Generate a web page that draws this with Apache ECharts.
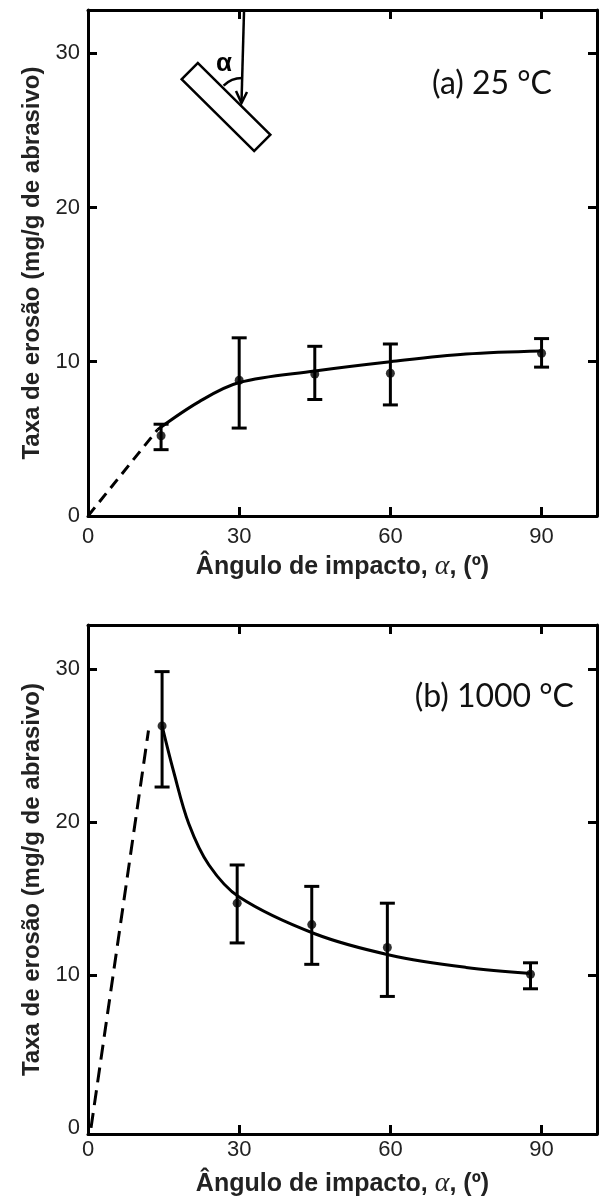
<!DOCTYPE html>
<html>
<head>
<meta charset="utf-8">
<script src="https://cdn.jsdelivr.net/npm/echarts@6/dist/echarts.min.js"></script>
<style>
  html, body { margin: 0; padding: 0; background: #fff; }
  #main { width: 600px; height: 1197px; }
</style>
</head>
<body>
<div id="main"></div>
<script>
// (a) 25 °C - pontos medidos
const anguloA = [14.5, 30, 45, 60, 90];
const taxaA = [5.2, 8.8, 9.2, 9.25, 10.55];
const erroMinA = [4.3, 5.7, 7.55, 7.2, 9.65];
const erroMaxA = [5.95, 11.55, 11.0, 11.15, 11.5];
// curva ajustada (a)
const curvaA = [[13.8, 5.6], [22, 7.4], [30, 8.65], [45, 9.4], [60, 10.0], [75, 10.5], [90, 10.7]];
const tracejadoA = [[0, 0], [13.8, 5.6]];

// (b) 1000 °C - pontos medidos
const anguloB = [14.7, 29.6, 44.4, 59.4, 87.8];
const taxaB = [26.3, 14.7, 13.3, 11.8, 10.05];
const erroMinB = [22.3, 12.1, 10.7, 8.6, 9.1];
const erroMaxB = [29.85, 17.2, 15.8, 14.7, 10.8];
// curva ajustada (b)
const curvaB = [[14.7, 26.3], [17, 23.3], [20, 19.9], [24, 17.2], [30, 15.1], [45, 12.7], [60, 11.3], [75, 10.5], [88, 10.1]];
const tracejadoB = [[0.6, 0], [12, 26]];

const xRotulos = [0, 30, 60, 90];
const xMarcas = [30, 60, 90];
const yRotulos = [0, 10, 20, 30];
const yMarcas = [10, 20, 30];

const fonte = 'Liberation Sans';

function pontos(xs, ys) {
  return xs.map((x, i) => [x, ys[i]]);
}
function erros(xs, lo, hi) {
  return xs.map((x, i) => [x, lo[i], hi[i]]);
}

function barraErro(params, api) {
  const x = api.value(0);
  const lo = api.coord([x, api.value(1)]);
  const hi = api.coord([x, api.value(2)]);
  const w = 7.5;
  const style = { stroke: '#000', lineWidth: 3 };
  return {
    type: 'group',
    children: [
      { type: 'line', shape: { x1: lo[0], y1: lo[1], x2: hi[0], y2: hi[1] }, style: style },
      { type: 'line', shape: { x1: lo[0] - w, y1: lo[1], x2: lo[0] + w, y2: lo[1] }, style: style },
      { type: 'line', shape: { x1: hi[0] - w, y1: hi[1], x2: hi[0] + w, y2: hi[1] }, style: style }
    ]
  };
}

function eixoX(grid, pos, nameGap, margem) {
  const embaixo = pos === 'bottom';
  return {
    type: 'value', gridIndex: grid, position: pos, min: 0, max: 101,
    axisLine: { show: true, onZero: false, lineStyle: { color: '#000', width: 3 } },
    axisTick: { show: true, inside: true, length: 9, customValues: xMarcas,
      lineStyle: { color: '#000', width: 3 } },
    axisLabel: { show: embaixo, customValues: xRotulos, margin: margem,
      fontFamily: fonte, fontSize: 22, color: '#222' },
    splitLine: { show: false },
    name: embaixo ? '{b|Ângulo de impacto, }{a|α}{b|, (º)}' : '',
    nameLocation: 'middle',
    nameGap: nameGap,
    nameTextStyle: {
      rich: {
        b: { fontFamily: fonte, fontWeight: 'bold', fontSize: 25, color: '#222' },
        a: { fontFamily: 'Liberation Serif', fontStyle: 'italic', fontSize: 28, color: '#222' }
      }
    }
  };
}

function eixoY(grid, pos, min, max) {
  const esquerda = pos === 'left';
  return {
    type: 'value', gridIndex: grid, position: pos, min: min, max: max,
    axisLine: { show: true, onZero: false, lineStyle: { color: '#000', width: 3 } },
    axisTick: { show: true, inside: true, length: 9, customValues: yMarcas,
      lineStyle: { color: '#000', width: 3 } },
    axisLabel: { show: esquerda, customValues: yRotulos, margin: 8,
      fontFamily: fonte, fontSize: 22, color: '#222' },
    splitLine: { show: false },
    name: esquerda ? 'Taxa de erosão (mg/g de abrasivo)' : '',
    nameLocation: 'middle',
    nameRotate: 90,
    nameGap: 44,
    nameTextStyle: { fontFamily: fonte, fontWeight: 'bold', fontSize: 24, color: '#222' }
  };
}

function series(grid, curva, tracejado, dash, xs, ys, lo, hi) {
  const ax = { xAxisIndex: grid * 2, yAxisIndex: grid * 2 };
  return [
    Object.assign({ type: 'line', data: tracejado, showSymbol: false, silent: true,
      lineStyle: { color: '#000', width: 3, type: dash } }, ax),
    Object.assign({ type: 'line', data: curva, smooth: 0.35, showSymbol: false, silent: true,
      lineStyle: { color: '#000', width: 3 } }, ax),
    Object.assign({ type: 'custom', data: erros(xs, lo, hi), renderItem: barraErro, z: 3 }, ax),
    Object.assign({ type: 'scatter', data: pontos(xs, ys), symbolSize: 9, z: 4,
      itemStyle: { color: '#000' } }, ax)
  ];
}

const chart = echarts.init(document.getElementById('main'));
chart.setOption({
  animation: false,
  backgroundColor: '#fff',
  grid: [
    { left: 88, right: 3, top: 10, height: 506, outerBoundsMode: 'none' },
    { left: 88, right: 3, top: 625, height: 509, outerBoundsMode: 'none' }
  ],
  xAxis: [
    eixoX(0, 'bottom', 37, 10), eixoX(0, 'top', 0, 0),
    eixoX(1, 'bottom', 36, 5), eixoX(1, 'top', 0, 0)
  ],
  yAxis: [
    eixoY(0, 'left', 0, 32.8), eixoY(0, 'right', 0, 32.8),
    eixoY(1, 'left', -0.4, 32.9), eixoY(1, 'right', -0.4, 32.9)
  ],
  series: [].concat(
    series(0, curvaA, tracejadoA, [11, 7], anguloA, taxaA, erroMinA, erroMaxA),
    series(1, curvaB, tracejadoB, [15, 8], anguloB, taxaB, erroMinB, erroMaxB)
  ),
  graphic: [
    // esquema do ângulo de impacto
    { type: 'rect', x: 226, y: 107, rotation: -0.78,
      shape: { x: -51, y: -11.5, width: 102, height: 23 },
      style: { fill: '#fff', stroke: '#000', lineWidth: 2.5 } },
    { type: 'line', shape: { x1: 244, y1: 12, x2: 241.5, y2: 102 },
      style: { stroke: '#000', lineWidth: 2.5 } },
    { type: 'polyline', shape: { points: [[236, 91], [241.5, 103], [247, 92]] },
      style: { stroke: '#000', lineWidth: 2.5, fill: null } },
    { type: 'arc', shape: { cx: 242, cy: 104, r: 26, startAngle: Math.PI * 1.25, endAngle: Math.PI * 1.5, clockwise: true },
      style: { stroke: '#000', lineWidth: 2.5, fill: null } },
    { type: 'text', x: 224, y: 64,
      style: { text: 'α', font: 'bold 26px "Liberation Sans", Arial', fill: '#000', align: 'center', verticalAlign: 'middle' } },
    // rótulos dos painéis
    { type: 'text', x: 552, y: 84,
      style: { text: '(a) 25 °C', font: '32px Lato, sans-serif', fill: '#111', align: 'right', verticalAlign: 'middle' } },
    { type: 'text', x: 574, y: 697,
      style: { text: '(b) 1000 °C', font: '32px Lato, sans-serif', fill: '#111', align: 'right', verticalAlign: 'middle' } }
  ]
});
</script>
</body>
</html>
